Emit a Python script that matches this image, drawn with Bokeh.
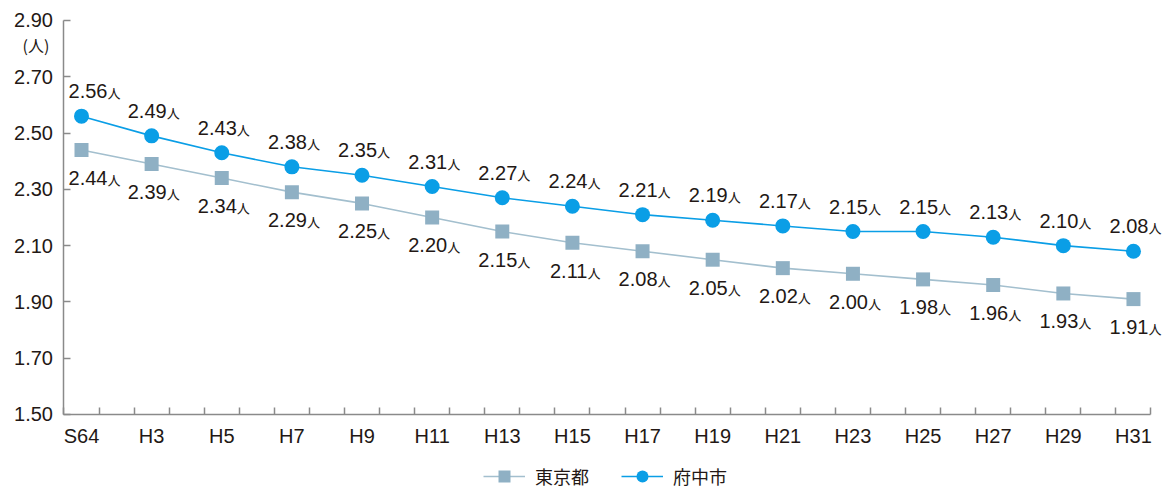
from bokeh.plotting import figure
from bokeh.models import (ColumnDataSource, FixedTicker, PrintfTickFormatter, CustomJSTickFormatter,
                          LabelSet, Label, Legend, LegendItem, Range1d, LinearAxis)
from bokeh.core.properties import value
from bokeh.embed import file_html
from bokeh.resources import INLINE

# ---- data ----
years = ["S64", "H3", "H5", "H7", "H9", "H11", "H13", "H15", "H17", "H19", "H21", "H23", "H25", "H27", "H29", "H31"]
fuchu = [2.56, 2.49, 2.43, 2.38, 2.35, 2.31, 2.27, 2.24, 2.21, 2.19, 2.17, 2.15, 2.15, 2.13, 2.10, 2.08]
tokyo = [2.44, 2.39, 2.34, 2.29, 2.25, 2.20, 2.15, 2.11, 2.08, 2.05, 2.02, 2.00, 1.98, 1.96, 1.93, 1.91]
y_ticks = [1.50, 1.70, 1.90, 2.10, 2.30, 2.50, 2.70, 2.90]
series_names = ["東京都", "府中市"]

FUCHU_C = "#0a9ee6"
TOKYO_C = "#8fb0c4"
TOKYO_LINE = "#a3bfce"
AXIS_C = "#8a8a8a"
TEXT_C = "#231815"
NUM_FONT = "Liberation Sans"
CJK_FONT = "Noto Sans CJK JP"

xs = list(range(len(years)))
x0, x1 = -0.25, len(years) - 0.75
# labels are centred on their point, except the first one which is nudged right of the axis
num_dx = [26 if i == 0 else 15 for i in xs]
src = ColumnDataSource(dict(
    x=xs, fuchu=fuchu, tokyo=tokyo,
    fuchu_lbl=[f"{v:.2f}" for v in fuchu],
    tokyo_lbl=[f"{v:.2f}" for v in tokyo],
    unit=["人"] * len(xs),
    dx=num_dx,
))

# frame covers the whole canvas; axes are pinned with fixed_location + bounds
p = figure(width=1162, height=492, output_backend="svg", toolbar_location=None,
           x_range=Range1d(-1.155, 15.414), y_range=Range1d(1.2228, 2.971),
           x_axis_location=None, y_axis_location=None,
           min_border_left=0, min_border_right=0, min_border_top=0, min_border_bottom=0)
p.outline_line_color = None
p.background_fill_color = "white"
p.border_fill_color = "white"
p.xgrid.visible = False
p.ygrid.visible = False

# x axis
xaxis = LinearAxis(fixed_location=1.50, bounds=(x0, x1))
xaxis.ticker = FixedTicker(ticks=xs, minor_ticks=[x0 + 0.5 * k for k in range(2 * len(xs))])
xaxis.formatter = CustomJSTickFormatter(args=dict(labels=years), code="return labels[Math.round(tick)];")
xaxis.major_tick_in = 0
xaxis.major_tick_out = 0
xaxis.minor_tick_in = 7
xaxis.minor_tick_out = 0
xaxis.minor_tick_line_color = AXIS_C
xaxis.minor_tick_line_width = 1.5
xaxis.axis_line_color = AXIS_C
xaxis.axis_line_width = 1.5
xaxis.major_label_standoff = 11
xaxis.major_label_text_font = NUM_FONT
xaxis.major_label_text_font_size = "20px"
xaxis.major_label_text_color = TEXT_C
p.add_layout(xaxis, "below")

# y axis
yaxis = LinearAxis(fixed_location=x0, bounds=(1.50, 2.90))
yaxis.ticker = FixedTicker(ticks=y_ticks, minor_ticks=[])
yaxis.formatter = PrintfTickFormatter(format="%.2f")
yaxis.major_tick_in = 7
yaxis.major_tick_out = 0
yaxis.major_tick_line_color = AXIS_C
yaxis.major_tick_line_width = 1.5
yaxis.minor_tick_line_color = None
yaxis.axis_line_color = AXIS_C
yaxis.axis_line_width = 1.5
yaxis.major_label_standoff = 11
yaxis.major_label_text_font = NUM_FONT
yaxis.major_label_text_font_size = "20px"
yaxis.major_label_text_color = TEXT_C
p.add_layout(yaxis, "left")

# series
l_t = p.line("x", "tokyo", source=src, line_color=TOKYO_LINE, line_width=1.6)
m_t = p.scatter("x", "tokyo", source=src, marker="square", size=14, fill_color=TOKYO_C, line_color=None)
l_f = p.line("x", "fuchu", source=src, line_color=FUCHU_C, line_width=1.6)
m_f = p.scatter("x", "fuchu", source=src, marker="circle", size=15, fill_color=FUCHU_C, line_color=None)

# data labels
for col, yoff in (("fuchu", 18), ("tokyo", -35)):
    p.add_layout(LabelSet(x="x", y=col, text=col + "_lbl", source=src, x_offset="dx", y_offset=yoff,
                          text_align="right", text_baseline="alphabetic",
                          text_font=value(NUM_FONT), text_font_size="20px", text_color=TEXT_C))
    p.add_layout(LabelSet(x="x", y=col, text="unit", source=src, x_offset="dx", y_offset=yoff,
                          text_align="left", text_baseline="alphabetic",
                          text_font=value(CJK_FONT), text_font_size="13px", text_color=TEXT_C))

# unit label on y axis
p.add_layout(Label(x=x0, y=2.90, x_offset=-28, y_offset=-25, text="(人)",
                   text_align="center", text_baseline="middle",
                   text_font=CJK_FONT, text_font_size="16px", text_color=TEXT_C))

legend = Legend(items=[LegendItem(label=series_names[0], renderers=[l_t, m_t]),
                       LegendItem(label=series_names[1], renderers=[l_f, m_f])],
                location=(483, 1), orientation="horizontal",
                glyph_width=42, glyph_height=30, label_standoff=10, spacing=32,
                padding=0, margin=0, border_line_color=None, background_fill_alpha=0,
                label_text_font=CJK_FONT, label_text_font_size="18px", label_text_color=TEXT_C)
p.add_layout(legend, "center")

open("out.html", "w").write(file_html(p, INLINE))
